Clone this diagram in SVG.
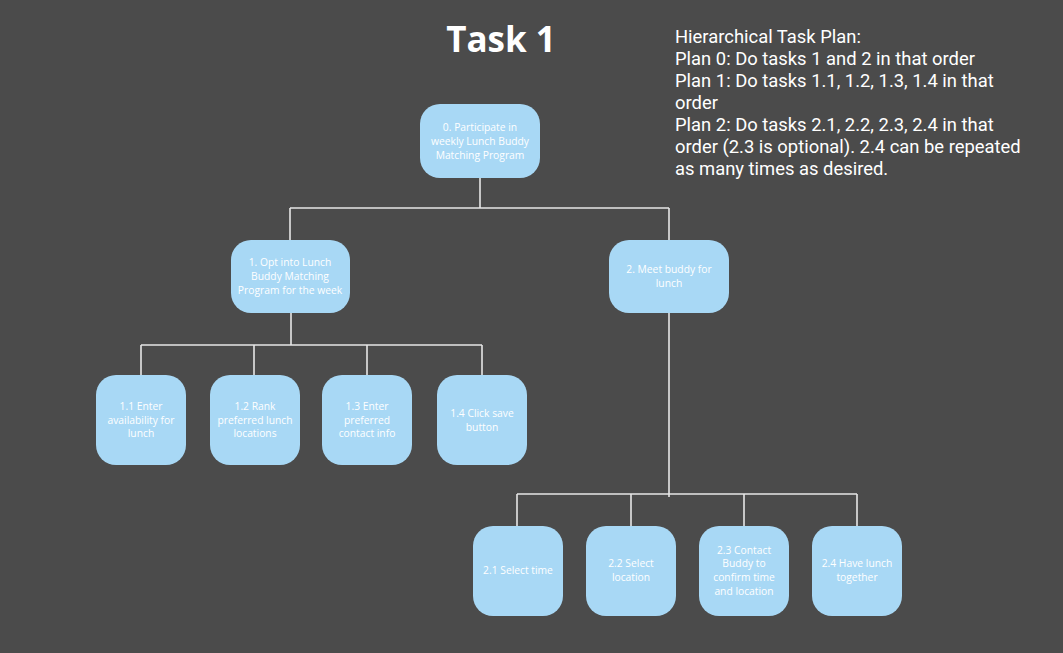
<svg xmlns="http://www.w3.org/2000/svg" width="1063" height="653" viewBox="0 0 1063 653">
<style>
.node rect{fill:#a8d8f5;}
.node text{fill:#ffffff;font-family:"Open Sans",sans-serif;font-size:10.3px;text-anchor:middle;}
.conn{fill:none;stroke:#e6e6e6;stroke-width:1.6;}
.plan{fill:#ffffff;font-family:Roboto,sans-serif;font-size:18.4px;}
</style>
<rect x="0" y="0" width="1063" height="653" fill="#4b4b4b"/>
<text x="501" y="52" fill="#ffffff" font-family="'Open Sans',sans-serif" font-weight="bold" font-size="35" text-anchor="middle">Task 1</text>
<g id="plan-text" class="plan">
<text x="675" y="43">Hierarchical Task Plan:</text>
<text x="675" y="65">Plan 0: Do tasks 1 and 2 in that order</text>
<text x="675" y="87">Plan 1: Do tasks 1.1, 1.2, 1.3, 1.4 in that</text>
<text x="675" y="109">order</text>
<text x="675" y="131">Plan 2: Do tasks 2.1, 2.2, 2.3, 2.4 in that</text>
<text x="675" y="153">order (2.3 is optional). 2.4 can be repeated</text>
<text x="675" y="175">as many times as desired.</text>
</g>
<g id="connectors" class="conn">
<path d="M480 178 V208 M290 208 H669 M290 208 V240 M669 208 V240"/>
<path d="M291 313 V345 M141 345 H482 M141 345 V375 M254 345 V375 M367 345 V375 M482 345 V375"/>
<path d="M669 313 V497 M517 494 H857 M517 494 V526 M631 494 V526 M744 494 V526 M857 494 V526"/>
</g>
<g id="n0" class="node"><rect x="420" y="104" width="120" height="74" rx="20"/>
<text x="480" y="131">0. Participate in</text><text x="480" y="145">weekly Lunch Buddy</text><text x="480" y="159">Matching Program</text></g>
<g id="n1" class="node"><rect x="231" y="240" width="119" height="73" rx="20"/>
<text x="290" y="266">1. Opt into Lunch</text><text x="290" y="280">Buddy Matching</text><text x="290" y="294">Program for the week</text></g>
<g id="n2" class="node"><rect x="609" y="240" width="120" height="73" rx="20"/>
<text x="669" y="273">2. Meet buddy for</text><text x="669" y="287">lunch</text></g>
<g id="n11" class="node"><rect x="96" y="375" width="90" height="90" rx="20"/>
<text x="141" y="410">1.1 Enter</text><text x="141" y="424">availability for</text><text x="141" y="437">lunch</text></g>
<g id="n12" class="node"><rect x="210" y="375" width="90" height="90" rx="20"/>
<text x="255" y="410">1.2 Rank</text><text x="255" y="424">preferred lunch</text><text x="255" y="437">locations</text></g>
<g id="n13" class="node"><rect x="322" y="375" width="90" height="90" rx="20"/>
<text x="367" y="410">1.3 Enter</text><text x="367" y="424">preferred</text><text x="367" y="437">contact info</text></g>
<g id="n14" class="node"><rect x="437" y="375" width="90" height="90" rx="20"/>
<text x="482" y="417">1.4 Click save</text><text x="482" y="431">button</text></g>
<g id="n21" class="node"><rect x="473" y="526" width="90" height="90" rx="20"/>
<text x="518" y="574">2.1 Select time</text></g>
<g id="n22" class="node"><rect x="586" y="526" width="90" height="90" rx="20"/>
<text x="631" y="567">2.2 Select</text><text x="631" y="581">location</text></g>
<g id="n23" class="node"><rect x="699" y="526" width="90" height="90" rx="20"/>
<text x="744" y="554">2.3 Contact</text><text x="744" y="567">Buddy to</text><text x="744" y="581">confirm time</text><text x="744" y="595">and location</text></g>
<g id="n24" class="node"><rect x="812" y="526" width="90" height="90" rx="20"/>
<text x="857" y="567">2.4 Have lunch</text><text x="857" y="581">together</text></g>
</svg>
